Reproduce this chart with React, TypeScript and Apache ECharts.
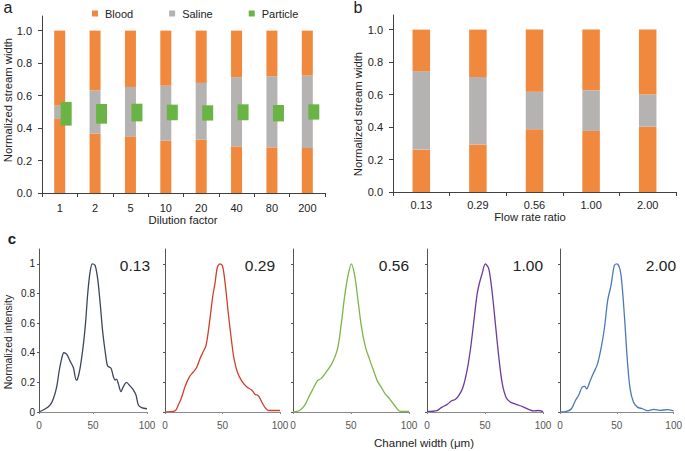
import React, { useEffect, useRef } from "react";
import * as echarts from "echarts";

// ---- Panel a data ----
const dilutionCats = ["1", "2", "5", "10", "20", "40", "80", "200"];
const bloodLowA = [0.456, 0.366, 0.349, 0.322, 0.329, 0.287, 0.281, 0.277];
const salineTopA = [0.538, 0.632, 0.653, 0.661, 0.678, 0.713, 0.719, 0.723];
const particleLowA = [0.415, 0.427, 0.441, 0.448, 0.446, 0.448, 0.441, 0.452];
const particleHighA = [0.561, 0.548, 0.55, 0.544, 0.54, 0.546, 0.542, 0.546];

// ---- Panel b data ----
const flowCats = ["0.13", "0.29", "0.56", "1.00", "2.00"];
const bloodLowB = [0.261, 0.292, 0.386, 0.376, 0.402];
const salineTopB = [0.743, 0.708, 0.618, 0.626, 0.6];

// ---- Panel c data ----
const curveLabels = ["0.13", "0.29", "0.56", "1.00", "2.00"];
const curve013 = [
  [0, 0], [5.6, 0.02], [10.2, 0.047], [13.3, 0.09], [16.4, 0.17], [18.5, 0.27], [21, 0.36],
  [23, 0.4], [25.6, 0.39], [28.7, 0.345], [31.8, 0.3], [34.5, 0.216], [35.5, 0.218], [38, 0.295],
  [41, 0.45], [43.2, 0.61], [45, 0.79], [47.2, 0.94], [49.4, 1.0], [51.9, 0.99], [54.3, 0.9],
  [56.5, 0.745], [59, 0.54], [61.7, 0.385], [63.6, 0.31], [66.7, 0.295], [68.8, 0.24], [70.4, 0.216],
  [71.8, 0.222], [73.5, 0.19], [75.9, 0.137], [78, 0.17], [81, 0.2], [84.3, 0.176], [87.3, 0.15],
  [89.8, 0.115], [92, 0.047], [95, 0.03], [100, 0.022],
];
const curve029 = [
  [0, 0], [8.7, 0.007], [11.6, 0.047], [14.5, 0.1], [17.4, 0.17], [21.2, 0.237], [24.6, 0.27],
  [27.5, 0.3], [30.4, 0.36], [32.8, 0.4], [35.7, 0.45], [38.6, 0.6], [41.5, 0.78], [43.5, 0.87],
  [45.5, 0.975], [47.8, 1.0], [50, 0.985], [52.2, 0.875], [55, 0.67], [58, 0.47], [60, 0.36],
  [62.9, 0.27], [66.7, 0.21], [71, 0.17], [75.4, 0.148], [78.3, 0.12], [81.2, 0.11], [84, 0.07],
  [87, 0.03], [89.9, 0.01], [100, 0.01],
];
const curve056 = [
  [0, 0], [5.7, 0.01], [10, 0.044], [13.5, 0.1], [17.2, 0.155], [21, 0.21], [24.4, 0.227],
  [28.7, 0.27], [33, 0.32], [35.9, 0.367], [38.8, 0.44], [41.7, 0.6], [44.5, 0.78], [47.4, 0.92],
  [50.3, 1.0], [53.2, 0.92], [56, 0.755], [58.9, 0.58], [62.4, 0.44], [66, 0.355], [69, 0.29],
  [72.7, 0.21], [76.1, 0.167], [79.6, 0.12], [83.3, 0.089], [87.6, 0.044], [92.8, 0.004], [100, 0.004],
];
const curve100 = [
  [0, 0.004], [8.6, 0.01], [12.9, 0.033], [17.2, 0.05], [21.6, 0.078], [24.4, 0.084], [27.3, 0.11],
  [30.7, 0.16], [34.5, 0.28], [37.4, 0.42], [40.2, 0.6], [43.1, 0.79], [45.1, 0.867], [47.4, 0.93],
  [50.3, 1.0], [53.2, 0.967], [56, 0.82], [58.9, 0.6], [61.8, 0.378], [64.7, 0.2], [68.1, 0.1],
  [71.8, 0.067], [77.6, 0.05], [83.3, 0.033], [87.6, 0.018], [92, 0.007], [96, 0.01], [100, 0.002],
];
const curve200 = [
  [0, 0], [5.8, 0.004], [10.1, 0.022], [13.6, 0.078], [16.5, 0.115], [19.4, 0.167], [21.7, 0.173],
  [23.5, 0.156], [26, 0.2], [29, 0.255], [32.8, 0.32], [36.2, 0.433], [39.1, 0.567], [42, 0.755],
  [44.9, 0.855], [47.8, 0.99], [50.1, 1.0], [53, 0.955], [55, 0.82], [57.1, 0.6], [59.4, 0.333],
  [61.7, 0.156], [64.6, 0.067], [68.1, 0.033], [72.5, 0.022], [76.8, 0.009], [82.6, 0.018],
  [88.4, 0.011], [94.2, 0.016], [100, 0.007],
];
const curves = [curve013, curve029, curve056, curve100, curve200];
const barTicks = [0, 0.2, 0.4, 0.6, 0.8, 1.0];

const ORANGE = "#F0883E";
const GRAY = "#B5B2B2";
const GREEN = "#6AB446";
const CURVE_COLORS = ["#3B4658", "#CF3F2C", "#7DB446", "#6A3A9C", "#4A79B9"];
const FONT = "Arial, 'Liberation Sans', sans-serif";
const AXIS_DARK = "#404040";
const TEXT = "#222";
const PARTICLE_WIDTH = 11;
const PARTICLE_OFFSET = 6.5;

export default function App() {
  const ref = useRef<HTMLDivElement>(null);
  useEffect(() => {
    document.body.style.margin = "0";
    if (!ref.current) return;
    const chart = echarts.init(ref.current, undefined, { renderer: "svg" });

    const cGrids = [
      { left: 39, width: 108 },
      { left: 165, width: 115 },
      { left: 293, width: 116 },
      { left: 427, width: 116 },
      { left: 560, width: 115 },
    ];
    const labelRight = [150, 275, 409, 543, 676];

    const grids: any[] = [
      { left: 42, top: 16, width: 283, height: 177 },
      { left: 393, top: 15, width: 283, height: 177 },
      ...cGrids.map((g) => ({ left: g.left, width: g.width, top: 249, height: 163 })),
    ];

    const catX = (idx: number, data: string[], margin: number) => ({
      type: "category",
      gridIndex: idx,
      data,
      axisLine: { lineStyle: { color: AXIS_DARK } },
      axisTick: { show: true, length: 4, lineStyle: { color: AXIS_DARK } },
      axisLabel: { color: TEXT, fontSize: 11, fontFamily: FONT, margin },
    });
    const barY = (idx: number) => ({
      type: "value",
      gridIndex: idx,
      min: 0,
      max: 1.09,
      interval: 0.2,
      splitLine: { show: false },
      axisLine: { show: true, lineStyle: { color: AXIS_DARK } },
      axisTick: { show: true, length: 4, customValues: barTicks, lineStyle: { color: AXIS_DARK } },
      axisLabel: {
        color: TEXT,
        fontSize: 11,
        fontFamily: FONT,
        margin: 10,
        customValues: barTicks,
        formatter: (v: number) => v.toFixed(1),
      },
    });

    const xAxes: any[] = [catX(0, dilutionCats, 9), catX(1, flowCats, 7)];
    const yAxes: any[] = [barY(0), barY(1)];
    cGrids.forEach((_, i) => {
      xAxes.push({
        type: "value",
        gridIndex: i + 2,
        min: 0,
        max: 100,
        interval: 50,
        splitLine: { show: false },
        axisLine: { lineStyle: { color: "#8a8a8a" } },
        axisTick: { show: true, length: 2, lineStyle: { color: "#8a8a8a" } },
        axisLabel: { color: "#555", fontSize: 10, fontFamily: FONT, margin: 8 },
      });
      yAxes.push({
        type: "value",
        gridIndex: i + 2,
        min: 0,
        max: 1.1,
        interval: 0.2,
        splitLine: { show: false },
        axisLine: { show: true, lineStyle: { color: "#555" } },
        axisTick: { show: true, length: 2, customValues: barTicks, lineStyle: { color: "#555" } },
        axisLabel: {
          show: i === 0,
          color: TEXT,
          fontSize: 10,
          fontFamily: FONT,
          margin: 4,
          customValues: barTicks,
        },
      });
    });

    const series: any[] = [
      {
        name: "Blood", type: "bar", stack: "a", xAxisIndex: 0, yAxisIndex: 0, barWidth: 11,
        itemStyle: { color: ORANGE }, data: bloodLowA,
      },
      {
        name: "Saline", type: "bar", stack: "a", xAxisIndex: 0, yAxisIndex: 0, barWidth: 11,
        itemStyle: { color: GRAY }, data: salineTopA.map((t, i) => +(t - bloodLowA[i]).toFixed(4)),
      },
      {
        name: "Blood", type: "bar", stack: "a", xAxisIndex: 0, yAxisIndex: 0, barWidth: 11,
        itemStyle: { color: ORANGE }, data: salineTopA.map((t) => +(1 - t).toFixed(4)),
      },
      {
        name: "Particle", type: "custom", xAxisIndex: 0, yAxisIndex: 0, z: 5,
        itemStyle: { color: GREEN },
        encode: { x: 0, y: [1, 2] },
        data: dilutionCats.map((_, i) => [i, particleLowA[i], particleHighA[i]]),
        renderItem: (params: any, api: any) => {
          const lo = api.coord([api.value(0), api.value(1)]);
          const hi = api.coord([api.value(0), api.value(2)]);
          const cx = lo[0] + PARTICLE_OFFSET;
          return {
            type: "rect",
            z2: 10,
            shape: {
              x: cx - PARTICLE_WIDTH / 2,
              y: hi[1],
              width: PARTICLE_WIDTH,
              height: lo[1] - hi[1],
            },
            style: { fill: GREEN },
          };
        },
      },
      {
        name: "Blood", type: "bar", stack: "b", xAxisIndex: 1, yAxisIndex: 1, barWidth: 17.5,
        itemStyle: { color: ORANGE }, data: bloodLowB,
      },
      {
        name: "Saline", type: "bar", stack: "b", xAxisIndex: 1, yAxisIndex: 1, barWidth: 17.5,
        itemStyle: { color: GRAY }, data: salineTopB.map((t, i) => +(t - bloodLowB[i]).toFixed(4)),
      },
      {
        name: "Blood", type: "bar", stack: "b", xAxisIndex: 1, yAxisIndex: 1, barWidth: 17.5,
        itemStyle: { color: ORANGE }, data: salineTopB.map((t) => +(1 - t).toFixed(4)),
      },
      ...curves.map((c, i) => ({
        name: "Profile " + curveLabels[i],
        type: "line",
        xAxisIndex: i + 2,
        yAxisIndex: i + 2,
        showSymbol: false,
        smooth: 0.3,
        lineStyle: { color: CURVE_COLORS[i], width: 1.3 },
        itemStyle: { color: CURVE_COLORS[i] },
        data: c,
      })),
    ];

    const txt = (text: string, x: number, y: number, font: string, extra: any = {}) => ({
      type: "text",
      x,
      y,
      ...extra,
      style: { text, font, fill: TEXT, align: "center", verticalAlign: "middle", ...(extra.style || {}) },
    });

    const graphic: any[] = [
      txt("a", 8, 7, `16px ${FONT}`),
      txt("b", 358, 7, `16px ${FONT}`),
      txt("c", 12, 238, `bold 15px ${FONT}`),
      txt("Normalized stream width", 8, 100, `11.3px ${FONT}`, { rotation: Math.PI / 2 }),
      txt("Normalized stream width", 358, 114, `11.3px ${FONT}`, { rotation: Math.PI / 2 }),
      txt("Normalized intensity", 8, 342, `10.5px ${FONT}`, { rotation: Math.PI / 2 }),
      txt("Dilution factor", 183, 220, `11.3px ${FONT}`),
      txt("Flow rate ratio", 530, 217, `11.3px ${FONT}`),
      txt("Channel width (μm)", 424, 443, `11.5px ${FONT}`),
      ...curveLabels.map((l, i) =>
        txt(l, labelRight[i], 265, `15.5px ${FONT}`, { style: { align: "right" } })
      ),
    ];

    chart.setOption({
      animation: false,
      backgroundColor: "#fff",
      textStyle: { fontFamily: FONT },
      legend: {
        data: [
          { name: "Blood", icon: "rect" },
          { name: "Saline", icon: "rect" },
          { name: "Particle", icon: "rect" },
        ],
        left: 92,
        top: 8,
        padding: 0,
        itemWidth: 6,
        itemHeight: 6,
        itemGap: 36,
        selectedMode: false,
        textStyle: { fontSize: 11, color: TEXT, fontFamily: FONT, padding: [0, 0, 0, 2] },
      },
      grid: grids,
      xAxis: xAxes,
      yAxis: yAxes,
      series,
      graphic,
    });
    return () => chart.dispose();
  }, []);
  return <div ref={ref} style={{ width: 685, height: 451 }} />;
}
